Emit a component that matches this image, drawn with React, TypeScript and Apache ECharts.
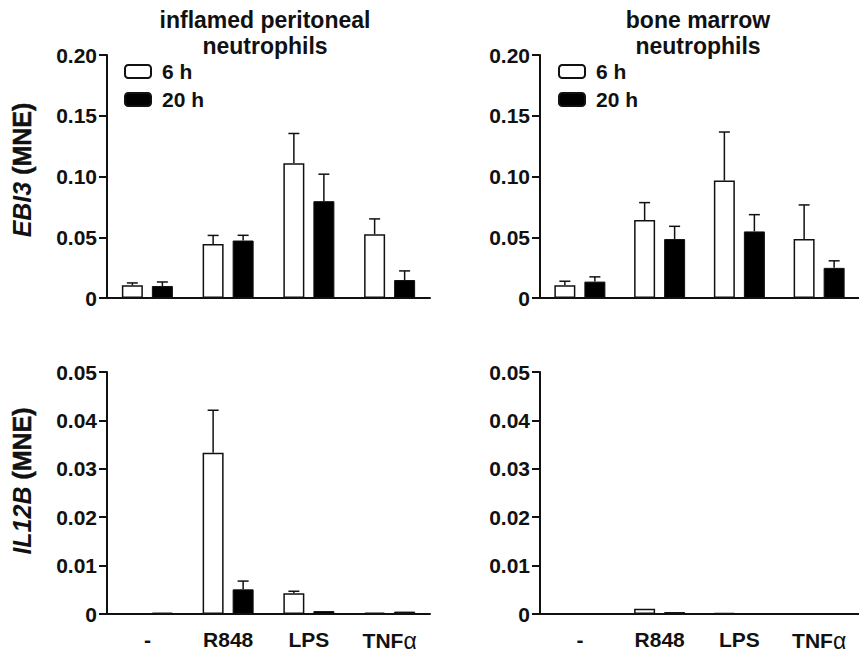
import React, { useEffect, useRef } from "react";
import * as echarts from "echarts";

const categories = ["-", "R848", "LPS", "TNFα"];

// EBI3, inflamed peritoneal neutrophils
const ebi3Perit6h = [0.0104, 0.0445, 0.111, 0.0525];
const ebi3Perit6hErr = [0.002, 0.007, 0.0244, 0.0126];
const ebi3Perit20h = [0.0099, 0.0473, 0.0797, 0.0148];
const ebi3Perit20hErr = [0.0033, 0.0043, 0.0222, 0.0075];

// EBI3, bone marrow neutrophils
const ebi3BM6h = [0.0105, 0.0642, 0.0967, 0.0485];
const ebi3BM6hErr = [0.0033, 0.0143, 0.0399, 0.0281];
const ebi3BM20h = [0.0135, 0.0485, 0.0548, 0.0248];
const ebi3BM20hErr = [0.0039, 0.0105, 0.0138, 0.0058];

// IL12B, inflamed peritoneal neutrophils
const il12Perit6h = [0, 0.0333, 0.0043, 0.0003];
const il12Perit6hErr = [0, 0.0088, 0.0004, 0];
const il12Perit20h = [0.0003, 0.0051, 0.0006, 0.0005];
const il12Perit20hErr = [0, 0.0017, 0, 0];

// IL12B, bone marrow neutrophils
const il12BM6h = [0, 0.0011, 0.0002, 0];
const il12BM6hErr = [0, 0, 0, 0];
const il12BM20h = [0, 0.0004, 0.0001, 0.0001];
const il12BM20hErr = [0, 0, 0, 0];

const panelTitles = [
  ["inflamed peritoneal", "neutrophils"],
  ["bone marrow", "neutrophils"],
];
const yTitles = [
  ["EBI3", "(MNE)"],
  ["IL12B", "(MNE)"],
];

const FONT = "'Liberation Sans', Arial, Helvetica, sans-serif";
const INK = "#111";
const BAR_W = 21;
const OFFSET = 15;

const panels = [
  { m6: ebi3Perit6h, e6: ebi3Perit6hErr, m20: ebi3Perit20h, e20: ebi3Perit20hErr },
  { m6: ebi3BM6h, e6: ebi3BM6hErr, m20: ebi3BM20h, e20: ebi3BM20hErr },
  { m6: il12Perit6h, e6: il12Perit6hErr, m20: il12Perit20h, e20: il12Perit20hErr },
  { m6: il12BM6h, e6: il12BM6hErr, m20: il12BM20h, e20: il12BM20hErr },
];

const grids = [
  { left: 107, top: 55, width: 323, height: 243 },
  { left: 540, top: 55, width: 324, height: 243 },
  { left: 107, top: 372, width: 323, height: 242 },
  { left: 540, top: 372, width: 324, height: 242 },
];

function errRenderer(offset: number) {
  return (params: any, api: any) => {
    const idx = api.value(0);
    const mean = api.value(1);
    const err = api.value(2);
    if (!err) return null;
    const base = api.coord([idx, mean]);
    const top = api.coord([idx, mean + err]);
    const x = base[0] + offset;
    const style = { stroke: INK, lineWidth: 1.5 };
    return {
      type: "group",
      children: [
        { type: "line", shape: { x1: x, y1: base[1], x2: x, y2: top[1] }, style },
        { type: "line", shape: { x1: x - 5.5, y1: top[1], x2: x + 5.5, y2: top[1] }, style },
      ],
    };
  };
}

function fmtY(v: number) {
  return v === 0 ? "0" : v.toFixed(2);
}

function measure(text: string, font: string) {
  const c = document.createElement("canvas");
  const ctx = c.getContext("2d");
  if (!ctx) return text.length * 14;
  ctx.font = font;
  return ctx.measureText(text).width;
}

export default function App() {
  const ref = useRef<HTMLDivElement>(null);
  useEffect(() => {
    if (!ref.current) return;
    const chart = echarts.init(ref.current, undefined, { renderer: "svg" });

    const xAxis = grids.map((_, i) => ({
      type: "category",
      gridIndex: i,
      data: categories,
      boundaryGap: true,
      axisLine: { lineStyle: { color: INK, width: 2 } },
      axisTick: { alignWithLabel: true, interval: 0, length: 8, lineStyle: { color: INK, width: 2 } },
      axisLabel: {
        show: i >= 2,
        interval: 0,
        margin: 15,
        color: INK,
        fontFamily: FONT,
        fontWeight: "bold",
        fontSize: 21,
        formatter: (v: string) => (v === "TNFα" ? "TNF{a|α}" : v),
        rich: { a: { fontFamily: FONT, fontWeight: "normal", fontSize: 23, color: INK } },
      },
    }));

    const yAxis = grids.map((_, i) => ({
      type: "value",
      gridIndex: i,
      min: 0,
      max: i < 2 ? 0.2 : 0.05,
      interval: i < 2 ? 0.05 : 0.01,
      splitLine: { show: false },
      axisLine: { show: true, lineStyle: { color: INK, width: 2 } },
      axisTick: { show: true, length: 8, lineStyle: { color: INK, width: 2 } },
      axisLabel: {
        margin: 10,
        color: INK,
        fontFamily: FONT,
        fontWeight: "bold",
        fontSize: 21,
        formatter: fmtY,
      },
    }));

    const series: any[] = [];
    panels.forEach((p, i) => {
      series.push({
        type: "bar",
        name: "6 h",
        xAxisIndex: i,
        yAxisIndex: i,
        data: p.m6,
        barWidth: BAR_W,
        barGap: "43%",
        itemStyle: { color: "#fff", borderColor: INK, borderWidth: 1.5 },
      });
      series.push({
        type: "bar",
        name: "20 h",
        xAxisIndex: i,
        yAxisIndex: i,
        data: p.m20,
        barWidth: BAR_W,
        barGap: "43%",
        itemStyle: { color: "#000", borderColor: INK, borderWidth: 1 },
      });
      series.push({
        type: "custom",
        name: "6 h SEM",
        xAxisIndex: i,
        yAxisIndex: i,
        renderItem: errRenderer(-OFFSET),
        encode: { x: 0, y: 1 },
        data: categories.map((_, k) => [k, p.m6[k], p.e6[k]]),
        z: 5,
      });
      series.push({
        type: "custom",
        name: "20 h SEM",
        xAxisIndex: i,
        yAxisIndex: i,
        renderItem: errRenderer(OFFSET),
        encode: { x: 0, y: 1 },
        data: categories.map((_, k) => [k, p.m20[k], p.e20[k]]),
        z: 5,
      });
    });

    const legendBase = {
      data: ["6 h", "20 h"],
      orient: "vertical",
      top: 61,
      padding: 0,
      itemWidth: 26,
      itemHeight: 13,
      itemGap: 7,
      selectedMode: false,
      textStyle: { color: INK, fontFamily: FONT, fontWeight: "bold", fontSize: 21, lineHeight: 20, padding: [0, 0, 0, 6] },
    };

    const titleCenters = [265, 698];
    const titleGraphics: any[] = [];
    panelTitles.forEach((lines, t) => {
      lines.forEach((line, l) => {
        titleGraphics.push({
          type: "text",
          x: titleCenters[t],
          y: 20 + l * 26,
          style: {
            text: line,
            fontFamily: FONT,
            fontWeight: "bold",
            fontSize: 23,
            fill: INK,
            align: "center",
            verticalAlign: "middle",
          },
        });
      });
    });

    // rotated y-axis titles: italic gene name followed by "(MNE)", reading bottom to top
    const fItalic = `italic bold 25px ${FONT}`;
    const fBold = `bold 25px ${FONT}`;
    const yTitleCenters = [170, 481];
    const yTitleGraphics: any[] = [];
    yTitles.forEach((parts, t) => {
      const w1 = measure(parts[0] + " ", fItalic);
      const w2 = measure(parts[1], fBold);
      const start = -(w1 + w2) / 2;
      yTitleGraphics.push({
        type: "group",
        x: 22,
        y: yTitleCenters[t],
        rotation: Math.PI / 2,
        children: [
          {
            type: "text",
            x: start,
            y: 0,
            style: {
              text: parts[0],
              fontFamily: FONT,
              fontStyle: "italic",
              fontWeight: "bold",
              fontSize: 25,
              fill: INK,
              align: "left",
              verticalAlign: "middle",
            },
          },
          {
            type: "text",
            x: start + w1,
            y: 0,
            style: {
              text: parts[1],
              fontFamily: FONT,
              fontWeight: "bold",
              fontSize: 25,
              fill: INK,
              stroke: INK,
              lineWidth: 0.5,
              align: "left",
              verticalAlign: "middle",
            },
          },
        ],
      });
    });

    chart.setOption({
      animation: false,
      backgroundColor: "#fff",
      grid: grids.map((g) => ({ ...g, containLabel: false })),
      xAxis,
      yAxis,
      legend: [
        { ...legendBase, left: 124 },
        { ...legendBase, left: 558 },
      ],
      graphic: [...titleGraphics, ...yTitleGraphics],
      series,
    });

    return () => chart.dispose();
  }, []);

  return (
    <div
      ref={ref}
      style={{ position: "fixed", left: 0, top: 0, width: 859, height: 654, background: "#fff" }}
    />
  );
}
